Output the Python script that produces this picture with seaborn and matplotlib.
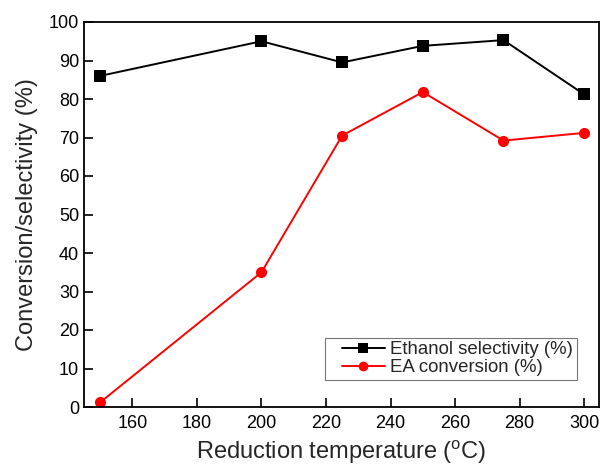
import matplotlib
matplotlib.use("Agg")
import matplotlib.pyplot as plt
import seaborn as sns
import pandas as pd
from matplotlib.lines import Line2D
from matplotlib.legend_handler import HandlerLine2D

temperature = [150, 200, 225, 250, 275, 300]
ethanol_selectivity = [86.0, 95.0, 89.5, 93.8, 95.3, 81.2]
ea_conversion = [1.2, 35.0, 70.5, 81.8, 69.2, 71.2]
series_names = ["Ethanol selectivity (%)", "EA conversion (%)"]
x_ticks = [160, 180, 200, 220, 240, 260, 280, 300]
y_ticks = [0, 10, 20, 30, 40, 50, 60, 70, 80, 90, 100]

sns.set_style("white")
plt.rcParams['font.family'] = ['Liberation Sans', 'DejaVu Sans']
plt.rcParams['mathtext.fontset'] = 'custom'
plt.rcParams['mathtext.rm'] = 'Liberation Sans'
plt.rcParams['mathtext.it'] = 'Liberation Sans:italic'

df = pd.DataFrame({
    "T": temperature * 2,
    "v": ethanol_selectivity + ea_conversion,
    "s": [series_names[0]] * len(temperature) + [series_names[1]] * len(temperature),
})

fig = plt.figure(figsize=(6.01, 4.68), dpi=100)
ax = fig.add_axes([84/601, 1 - 407/468, (599-84)/601, (407-22)/468])

sns.lineplot(data=df, x="T", y="v", hue="s", style="s",
             palette={series_names[0]: "black", series_names[1]: "red"},
             markers={series_names[0]: "s", series_names[1]: "o"},
             dashes=False, markersize=8, markeredgewidth=0, linewidth=1.4, ax=ax)

ax.set_xlim(145, 304.6)
ax.set_ylim(0, 100)
ax.set_xticks(x_ticks)
ax.set_yticks(y_ticks)
ax.tick_params(direction="in", length=6.5, width=1.2, labelsize=13, colors="black",
               bottom=True, left=True, top=False, right=False)
ax.tick_params(axis="x", pad=6)
for sp in ax.spines.values():
    sp.set_linewidth(1.3)
    sp.set_color("black")
ax.set_xlabel("Reduction temperature ($\\rm ^{o}$C)", fontsize=17, labelpad=5)
ax.set_ylabel("Conversion/selectivity (%)", fontsize=17, labelpad=8)

leg = ax.legend(loc="lower right", bbox_to_anchor=(0.957, 0.07), fontsize=13.4,
                frameon=True, fancybox=False, edgecolor="#555555", borderaxespad=0,
                handlelength=3.0, borderpad=0.2, labelspacing=0.05, handletextpad=0.3,
                handler_map={Line2D: HandlerLine2D(xpad=0.7)})
leg.get_frame().set_linewidth(0.8)
for h in leg.legend_handles:
    h.set_markersize(7)

fig.savefig("out.png", dpi=100)
